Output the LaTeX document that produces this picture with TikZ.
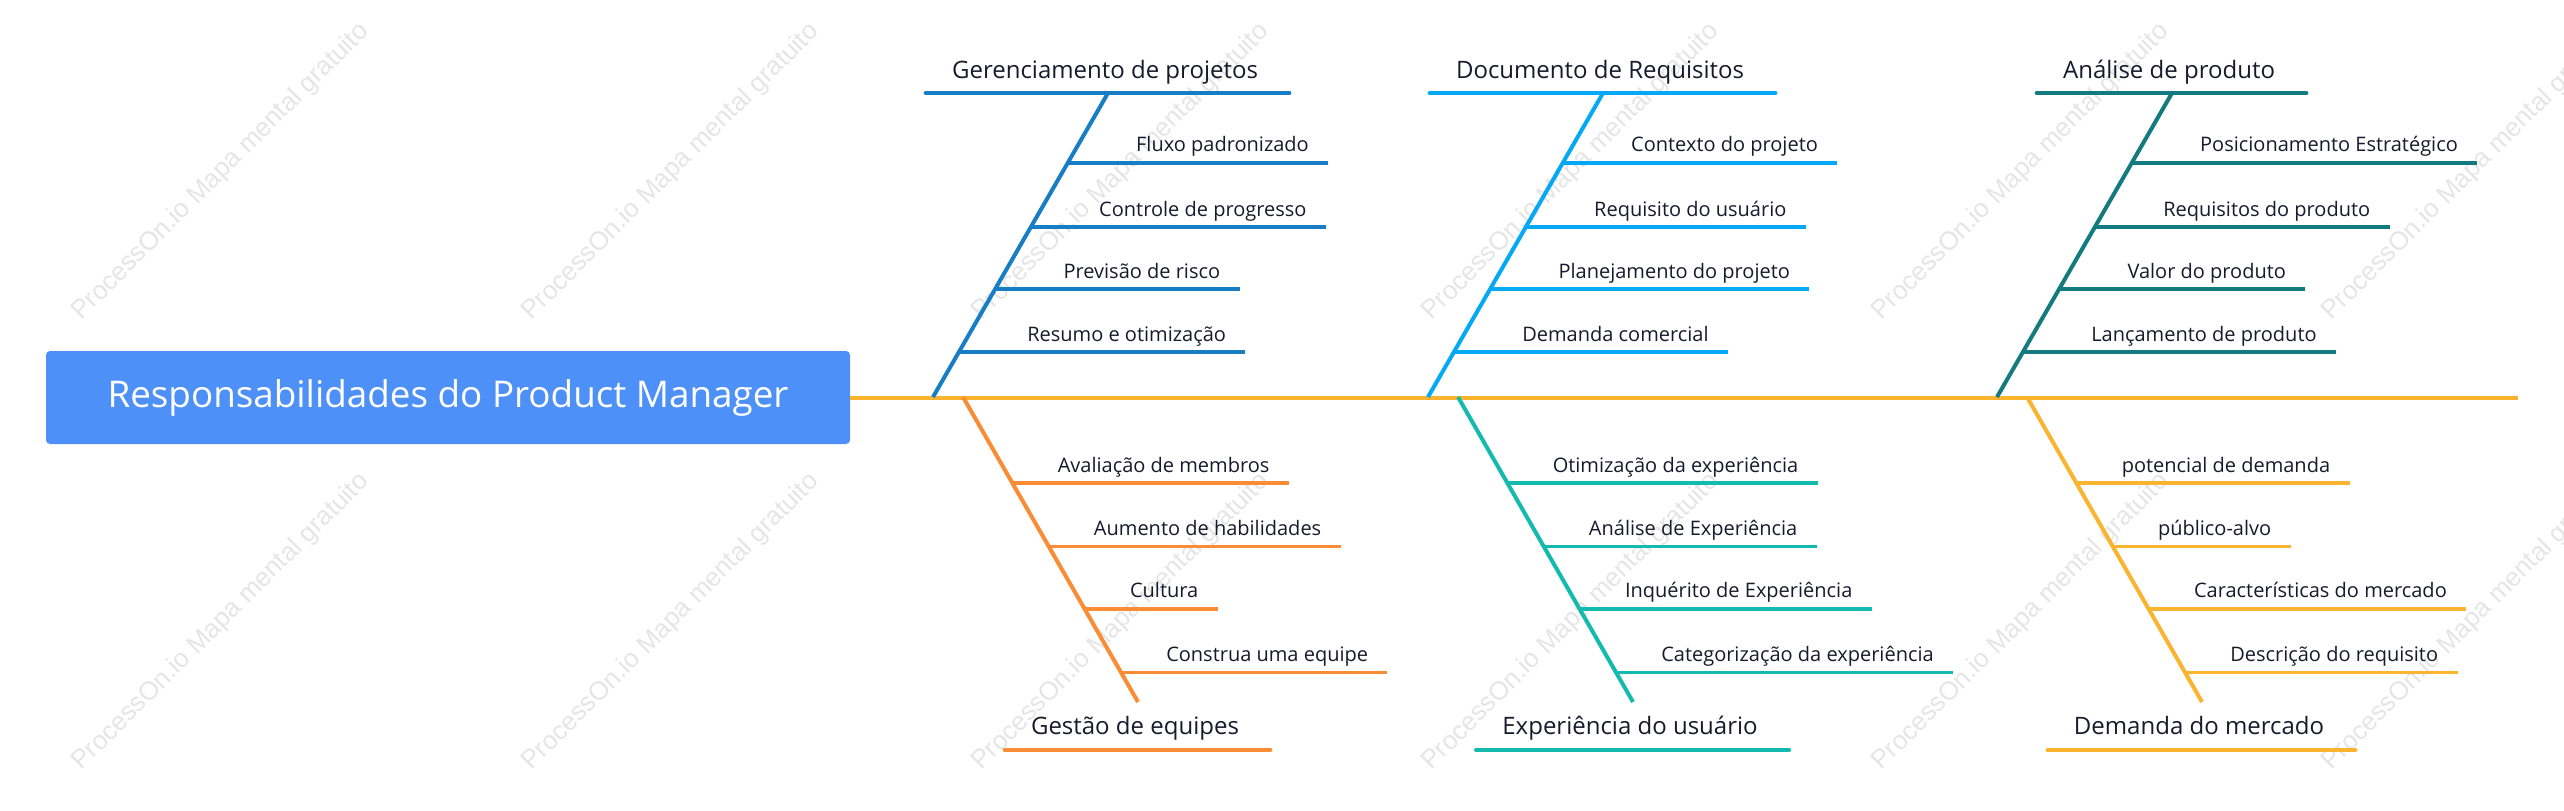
\documentclass[tikz,border=0pt]{standalone}
\usepackage{fontspec}
\setmainfont{Open Sans}
\newfontfamily\markfont{Liberation Sans}
\usetikzlibrary{calc}

\definecolor{inkcol}{RGB}{25,25,45}
\definecolor{rootcol}{RGB}{77,144,247}
\definecolor{spinecol}{RGB}{251,178,45}
\definecolor{gercol}{RGB}{23,125,196}
\definecolor{doccol}{RGB}{3,169,244}
\definecolor{anacol}{RGB}{19,123,128}
\definecolor{gescol}{RGB}{250,140,53}
\definecolor{expcol}{RGB}{20,186,173}
\definecolor{demcol}{RGB}{251,180,47}

\tikzset{
  rootbox/.style={fill=rootcol, text=white, rounded corners=2pt, inner sep=0pt,
    minimum width=402pt, minimum height=46.5pt, font=\fontsize{18.4}{22}\selectfont},
  head/.style={inner sep=0pt, text=inkcol, font=\fontsize{12}{14}\selectfont},
  sub/.style={inner sep=0pt, text=inkcol, font=\fontsize{10}{12}\selectfont},
  bone/.style={line width=2pt},
  headline/.style={line width=2pt, line cap=round},
  subline/.style={line width=1.6pt},
  wmark/.style={rotate=45, text=black!10, inner sep=0pt, font=\markfont\fontsize{13}{15}\selectfont}
}

\begin{document}
\begin{tikzpicture}[x=0.5pt,y=-0.5pt]
\useasboundingbox (0,0) rectangle (2564,810);

% watermark
\foreach \wx in {221,671,1121,1571,2021,2471}
  \foreach \wy in {172,622}
    \node[wmark] (wm-\wx-\wy) at (\wx,\wy) {ProcessOn.io Mapa mental gratuito};

% head and spine
\node[rootbox] (root) at (448,397.5) {Responsabilidades do Product Manager};
\coordinate (tail) at (2518,397.5);
\draw[bone,spinecol] (root.east) -- (tail);

% Gerenciamento de projetos
\coordinate (gb) at (933,397);
\coordinate (gt) at (1108,93);
\draw[bone,gercol] (gb) -- (gt);
\node[head,anchor=base] (gh) at ($(gt)+(-3,-15)$) {Gerenciamento de projetos};
\draw[headline,gercol] ($(gh.west |- gt)+(-26,0)$) -- ($(gh.east |- gt)+(31,0)$);
\coordinate (g1) at ($(gb)!0.770!(gt)$);
\coordinate (g2) at ($(gb)!0.559!(gt)$);
\coordinate (g3) at ($(gb)!0.355!(gt)$);
\coordinate (g4) at ($(gb)!0.148!(gt)$);
\node[sub,anchor=base west] (g1t) at ($(g1)+(68,-11)$) {Fluxo padronizado};
\node[sub,anchor=base west] (g2t) at ($(g2)+(68,-11)$) {Controle de progresso};
\node[sub,anchor=base west] (g3t) at ($(g3)+(68,-11)$) {Previsão de risco};
\node[sub,anchor=base west] (g4t) at ($(g4)+(68,-11)$) {Resumo e otimização};
\draw[subline,gercol] (g1) -- ($(g1t.east |- g1)+(19,0)$);
\draw[subline,gercol] (g2) -- ($(g2t.east |- g2)+(19,0)$);
\draw[subline,gercol] (g3) -- ($(g3t.east |- g3)+(19,0)$);
\draw[subline,gercol] (g4) -- ($(g4t.east |- g4)+(19,0)$);

% Documento de Requisitos
\coordinate (db) at (1428,397);
\coordinate (dt) at (1603,93);
\draw[bone,doccol] (db) -- (dt);
\node[head,anchor=base] (dh) at ($(dt)+(-3,-15)$) {Documento de Requisitos};
\draw[headline,doccol] ($(dh.west |- dt)+(-26,0)$) -- ($(dh.east |- dt)+(31,0)$);
\coordinate (d1) at ($(db)!0.770!(dt)$);
\coordinate (d2) at ($(db)!0.559!(dt)$);
\coordinate (d3) at ($(db)!0.355!(dt)$);
\coordinate (d4) at ($(db)!0.148!(dt)$);
\node[sub,anchor=base west] (d1t) at ($(d1)+(68,-11)$) {Contexto do projeto};
\node[sub,anchor=base west] (d2t) at ($(d2)+(68,-11)$) {Requisito do usuário};
\node[sub,anchor=base west] (d3t) at ($(d3)+(68,-11)$) {Planejamento do projeto};
\node[sub,anchor=base west] (d4t) at ($(d4)+(68,-11)$) {Demanda comercial};
\draw[subline,doccol] (d1) -- ($(d1t.east |- d1)+(19,0)$);
\draw[subline,doccol] (d2) -- ($(d2t.east |- d2)+(19,0)$);
\draw[subline,doccol] (d3) -- ($(d3t.east |- d3)+(19,0)$);
\draw[subline,doccol] (d4) -- ($(d4t.east |- d4)+(19,0)$);

% Análise de produto
\coordinate (pb) at (1997,397);
\coordinate (pt) at (2172,93);
\draw[bone,anacol] (pb) -- (pt);
\node[head,anchor=base] (ph) at ($(pt)+(-3,-15)$) {Análise de produto};
\draw[headline,anacol] ($(ph.west |- pt)+(-26,0)$) -- ($(ph.east |- pt)+(31,0)$);
\coordinate (p1) at ($(pb)!0.770!(pt)$);
\coordinate (p2) at ($(pb)!0.559!(pt)$);
\coordinate (p3) at ($(pb)!0.355!(pt)$);
\coordinate (p4) at ($(pb)!0.148!(pt)$);
\node[sub,anchor=base west] (p1t) at ($(p1)+(68,-11)$) {Posicionamento Estratégico};
\node[sub,anchor=base west] (p2t) at ($(p2)+(68,-11)$) {Requisitos do produto};
\node[sub,anchor=base west] (p3t) at ($(p3)+(68,-11)$) {Valor do produto};
\node[sub,anchor=base west] (p4t) at ($(p4)+(68,-11)$) {Lançamento de produto};
\draw[subline,anacol] (p1) -- ($(p1t.east |- p1)+(19,0)$);
\draw[subline,anacol] (p2) -- ($(p2t.east |- p2)+(19,0)$);
\draw[subline,anacol] (p3) -- ($(p3t.east |- p3)+(19,0)$);
\draw[subline,anacol] (p4) -- ($(p4t.east |- p4)+(19,0)$);

% Gestão de equipes
\coordinate (qt) at (963,397);
\coordinate (qb) at (1138,702);
\coordinate (ql) at (1138,750);
\draw[bone,gescol] (qt) -- (qb);
\node[head,anchor=base] (qh) at ($(ql)+(-3,-16)$) {Gestão de equipes};
\draw[headline,gescol] ($(qh.west |- ql)+(-26,0)$) -- ($(qh.east |- ql)+(31,0)$);
\coordinate (q1) at ($(qt)!0.282!(qb)$);
\coordinate (q2) at ($(qt)!0.489!(qb)$);
\coordinate (q3) at ($(qt)!0.695!(qb)$);
\coordinate (q4) at ($(qt)!0.902!(qb)$);
\node[sub,anchor=base west] (q1t) at ($(q1)+(45,-11)$) {Avaliação de membros};
\node[sub,anchor=base west] (q2t) at ($(q2)+(45,-11)$) {Aumento de habilidades};
\node[sub,anchor=base west] (q3t) at ($(q3)+(45,-11)$) {Cultura};
\node[sub,anchor=base west] (q4t) at ($(q4)+(45,-11)$) {Construa uma equipe};
\draw[subline,gescol] (q1) -- ($(q1t.east |- q1)+(19,0)$);
\draw[subline,gescol] (q2) -- ($(q2t.east |- q2)+(19,0)$);
\draw[subline,gescol] (q3) -- ($(q3t.east |- q3)+(19,0)$);
\draw[subline,gescol] (q4) -- ($(q4t.east |- q4)+(19,0)$);

% Experiência do usuário
\coordinate (ut) at (1458,397);
\coordinate (ub) at (1633,702);
\coordinate (ul) at (1633,750);
\draw[bone,expcol] (ut) -- (ub);
\node[head,anchor=base] (uh) at ($(ul)+(-3,-16)$) {Experiência do usuário};
\draw[headline,expcol] ($(uh.west |- ul)+(-26,0)$) -- ($(uh.east |- ul)+(31,0)$);
\coordinate (u1) at ($(ut)!0.282!(ub)$);
\coordinate (u2) at ($(ut)!0.489!(ub)$);
\coordinate (u3) at ($(ut)!0.695!(ub)$);
\coordinate (u4) at ($(ut)!0.902!(ub)$);
\node[sub,anchor=base west] (u1t) at ($(u1)+(45,-11)$) {Otimização da experiência};
\node[sub,anchor=base west] (u2t) at ($(u2)+(45,-11)$) {Análise de Experiência};
\node[sub,anchor=base west] (u3t) at ($(u3)+(45,-11)$) {Inquérito de Experiência};
\node[sub,anchor=base west] (u4t) at ($(u4)+(45,-11)$) {Categorização da experiência};
\draw[subline,expcol] (u1) -- ($(u1t.east |- u1)+(19,0)$);
\draw[subline,expcol] (u2) -- ($(u2t.east |- u2)+(19,0)$);
\draw[subline,expcol] (u3) -- ($(u3t.east |- u3)+(19,0)$);
\draw[subline,expcol] (u4) -- ($(u4t.east |- u4)+(19,0)$);

% Demanda do mercado
\coordinate (mt) at (2027,397);
\coordinate (mb) at (2202,702);
\coordinate (ml) at (2202,750);
\draw[bone,demcol] (mt) -- (mb);
\node[head,anchor=base] (mh) at ($(ml)+(-3,-16)$) {Demanda do mercado};
\draw[headline,demcol] ($(mh.west |- ml)+(-26,0)$) -- ($(mh.east |- ml)+(31,0)$);
\coordinate (m1) at ($(mt)!0.282!(mb)$);
\coordinate (m2) at ($(mt)!0.489!(mb)$);
\coordinate (m3) at ($(mt)!0.695!(mb)$);
\coordinate (m4) at ($(mt)!0.902!(mb)$);
\node[sub,anchor=base west] (m1t) at ($(m1)+(45,-11)$) {potencial de demanda};
\node[sub,anchor=base west] (m2t) at ($(m2)+(45,-11)$) {público-alvo};
\node[sub,anchor=base west] (m3t) at ($(m3)+(45,-11)$) {Características do mercado};
\node[sub,anchor=base west] (m4t) at ($(m4)+(45,-11)$) {Descrição do requisito};
\draw[subline,demcol] (m1) -- ($(m1t.east |- m1)+(19,0)$);
\draw[subline,demcol] (m2) -- ($(m2t.east |- m2)+(19,0)$);
\draw[subline,demcol] (m3) -- ($(m3t.east |- m3)+(19,0)$);
\draw[subline,demcol] (m4) -- ($(m4t.east |- m4)+(19,0)$);
\end{tikzpicture}
\end{document}
